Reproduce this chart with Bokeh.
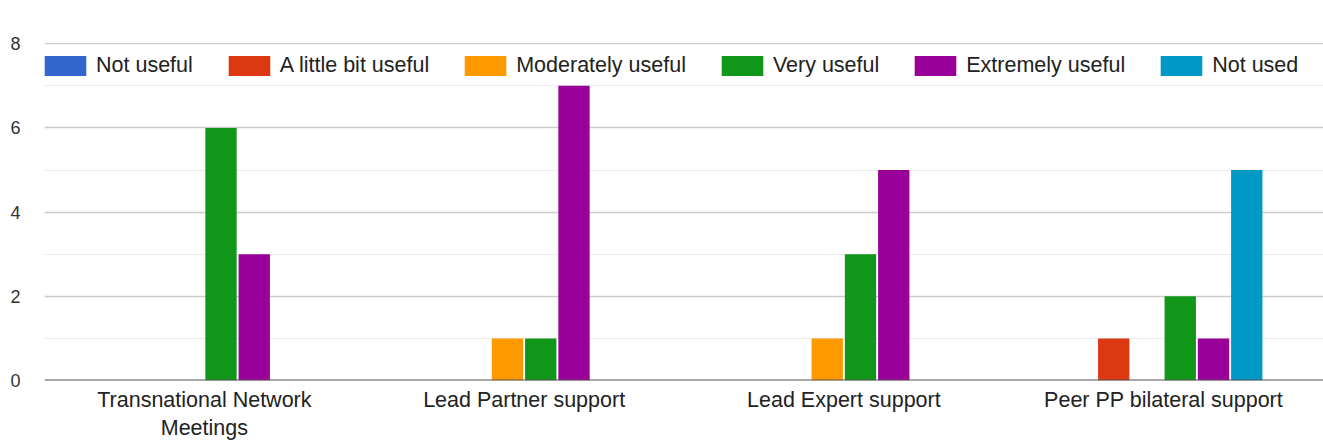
from bokeh.plotting import figure
from bokeh.models import FixedTicker, Span, Legend, LegendItem, ColumnDataSource
from bokeh.transform import dodge
from bokeh.embed import file_html
from bokeh.resources import INLINE

categories = ["Transnational Network\nMeetings", "Lead Partner support",
              "Lead Expert support", "Peer PP bilateral support"]
series = ["Not useful", "A little bit useful", "Moderately useful",
          "Very useful", "Extremely useful", "Not used"]
not_useful = [0, 0, 0, 0]
little_bit_useful = [0, 0, 0, 1]
moderately_useful = [0, 1, 1, 0]
very_useful = [6, 1, 3, 2]
extremely_useful = [3, 7, 5, 1]
not_used = [0, 0, 0, 5]
colors = ["#3366cc", "#dc3912", "#ff9900", "#109618", "#990099", "#0099c6"]
y_ticks = [0, 2, 4, 6, 8]
y_minor = [1, 3, 5, 7]

values = [not_useful, little_bit_useful, moderately_useful, very_useful,
          extremely_useful, not_used]
keys = ["s%d" % i for i in range(len(series))]
data = {"cat": categories}
for k, v in zip(keys, values):
    data[k] = v
source = ColumnDataSource(data)

p = figure(x_range=categories, y_range=(0, 8.03), width=1323, height=443,
           output_backend="svg", toolbar_location=None,
           min_border_left=44, min_border_right=0, min_border_top=42,
           min_border_bottom=63)
p.outline_line_color = None
p.background_fill_color = "white"
p.border_fill_color = "white"

slot = 0.104
barw = 0.098
items = []
for i, (k, name, c) in enumerate(zip(keys, series, colors)):
    off = (i - 2.5) * slot
    r = p.vbar(x=dodge("cat", off, range=p.x_range), top=k, width=barw,
               source=source, fill_color=c, line_color=None)
    items.append(LegendItem(label=name, renderers=[r]))

legend = Legend(items=items, orientation="horizontal", location=(-5, 302),
                glyph_width=52, glyph_height=25, label_standoff=5,
                spacing=30, padding=0, margin=0,
                label_text_font="Liberation Sans", label_text_font_size="21.5px",
                label_text_color="#222222", border_line_color=None,
                background_fill_alpha=0)
p.add_layout(legend, "center")

# grid
p.xgrid.grid_line_color = None
p.ygrid.grid_line_color = "#cccccc"
p.ygrid.grid_line_width = 1.5
p.ygrid.minor_grid_line_color = "#ebebeb"
p.ygrid.minor_grid_line_width = 1

p.yaxis.ticker = FixedTicker(ticks=y_ticks, minor_ticks=y_minor)
p.yaxis.axis_line_color = None
p.yaxis.major_tick_line_color = None
p.yaxis.minor_tick_line_color = None
p.yaxis.major_label_standoff = 18
p.yaxis.major_label_text_font = "Liberation Sans"
p.yaxis.major_label_text_font_size = "18px"
p.yaxis.major_label_text_color = "#333333"

p.xaxis.axis_line_color = None
p.xaxis.major_tick_line_color = None
p.xaxis.minor_tick_line_color = None
p.xaxis.major_label_standoff = 1
p.xaxis.major_label_text_font = "Liberation Sans"
p.xaxis.major_label_text_font_size = "21.5px"
p.xaxis.major_label_text_color = "#222222"

base = Span(location=0, dimension="width", line_color="#555555", line_width=2)
p.add_layout(base)

open("out.html", "w").write(file_html(p, INLINE))
